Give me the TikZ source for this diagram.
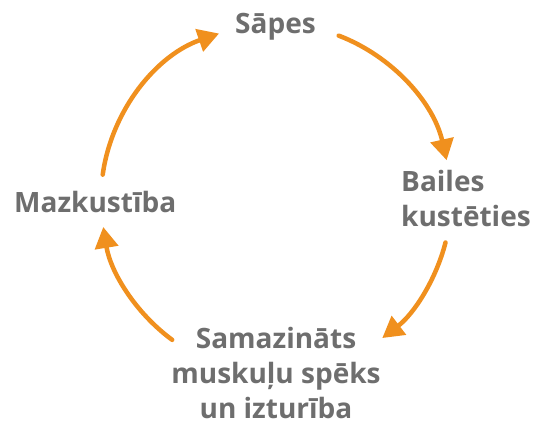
\documentclass[tikz,border=0pt]{standalone}
\usepackage{fontspec}
\setmainfont{Open Sans}
\usepackage{tikz}
\usetikzlibrary{arrows.meta,positioning,calc}
\definecolor{cycorange}{HTML}{F0901E}
\definecolor{cycgray}{HTML}{6E6E6E}

\begin{document}
\begin{tikzpicture}[x=1pt,y=1pt,
  lbl/.style={text=cycgray,font=\fontsize{28}{35}\selectfont\bfseries,inner sep=0pt,align=center},
  cyc/.style={draw=cycorange,line width=4.5pt,line cap=round,-{Triangle[length=21pt,width=23pt]}}]
\useasboundingbox (0,0) rectangle (534,424);

\coordinate (c) at (276,225);

\node[lbl,anchor=base] (sapes) at (275.5,390) {Sāpes};
\node[lbl,anchor=north west,align=left] (bailes) at (401,254) {Bailes\\kustēties};
\node[lbl,anchor=north] (samaz) at (276,97) {Samazināts\\muskuļu spēks\\un izturība};
\node[lbl,anchor=base west] (mazk) at (14,212) {Mazkustība};

\coordinate (a1) at ($(c)+(69:175)$);
\coordinate (a2) at ($(c)+(-14.4:175)$);
\coordinate (a3) at ($(c)+(233.6:175)$);
\coordinate (a4) at ($(c)+(172:175)$);

\draw[cyc] (a1) arc[start angle=69,end angle=12.8,radius=175];
\draw[cyc] (a2) arc[start angle=-14.4,end angle=-52.6,radius=175];
\draw[cyc] (a3) arc[start angle=233.6,end angle=189.2,radius=175];
\draw[cyc] (a4) arc[start angle=172,end angle=109,radius=175];
\end{tikzpicture}
\end{document}
